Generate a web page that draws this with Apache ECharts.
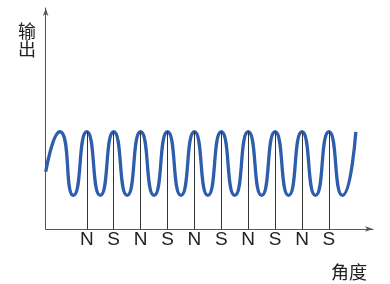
<!DOCTYPE html>
<html>
<head>
<meta charset="utf-8">
<script src="https://cdn.jsdelivr.net/npm/echarts@6/dist/echarts.min.js"></script>
<style>html,body{margin:0;padding:0;background:#fff;}#c{width:390px;height:284px;}</style>
</head>
<body>
<div id="c"></div>
<script>
// x: angle (degrees), y: output (relative units, 0..100)
const angle  = [0, 190, 370, 550, 730, 910, 1090, 1270, 1450, 1630, 1810, 1990, 2170, 2350, 2530, 2710, 2890, 3070, 3250, 3430, 3610, 3790, 3970, 4150];
const output = [25.9, 44, 15.2, 44, 15.2, 44, 15.2, 44, 15.2, 44, 15.2, 44, 15.2, 44, 15.2, 44, 15.2, 44, 15.2, 44, 15.2, 44, 15.2, 44];
const poleAngles = [550, 910, 1270, 1630, 1990, 2350, 2710, 3070, 3430, 3790];
const poleLabels = ['N', 'S', 'N', 'S', 'N', 'S', 'N', 'S', 'N', 'S'];
const poleTop = 44;
const xName = '角度';
const yName = '输出';

const chart = echarts.init(document.getElementById('c'), null, {renderer: 'canvas'});
chart.setOption({
  animation: false,
  backgroundColor: '#fff',
  grid: {left: 45.7, right: 17, top: 8, bottom: 55},
  xAxis: {
    type: 'value', min: 0, max: 4380,
    axisLine: {show: true, symbol: ['none', 'arrow'], symbolSize: [4, 8], lineStyle: {color: '#555', width: 1}},
    axisTick: {show: false},
    splitLine: {show: false},
    axisLabel: {
      show: true,
      customValues: poleAngles,
      margin: 1,
      color: '#222',
      fontSize: 19,
      fontFamily: '"Liberation Sans", Arial, sans-serif',
      formatter: function (v) { const i = poleAngles.indexOf(v); return i >= 0 ? poleLabels[i] : ''; }
    }
  },
  yAxis: {
    type: 'value', min: 0, max: 100,
    axisLine: {show: true, symbol: ['none', 'arrow'], symbolSize: [4, 8], lineStyle: {color: '#555', width: 1}},
    axisTick: {show: false},
    splitLine: {show: false},
    axisLabel: {show: false}
  },
  series: [{
    type: 'line',
    data: angle.map((a, i) => [a, output[i]]),
    smooth: 0.65,
    showSymbol: false,
    lineStyle: {color: '#2e5dab', width: 3.3},
    z: 3,
    markLine: {
      silent: true,
      symbol: ['none', 'none'],
      label: {show: false},
      lineStyle: {color: '#333', width: 1, type: 'solid'},
      data: poleAngles.map(a => [{coord: [a, 0]}, {coord: [a, poleTop]}])
    }
  }],
  graphic: [
    {type: 'text', x: 18, y: 22, style: {text: yName.split('').join('\n'), font: '18px "Noto Sans CJK SC"', lineHeight: 18, fill: '#222'}},
    {type: 'text', x: 331, y: 263, style: {text: xName, font: '18px "Noto Sans CJK SC"', fill: '#222'}}
  ]
});
</script>
</body>
</html>
